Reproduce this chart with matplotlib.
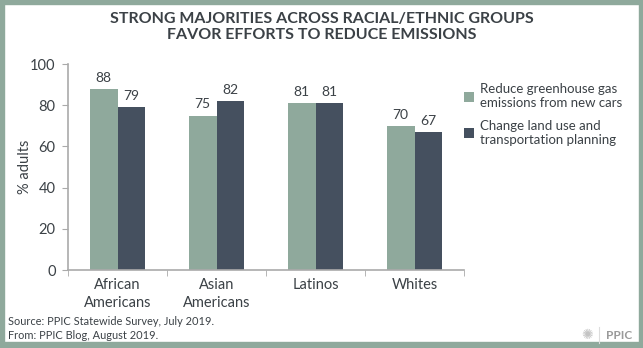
import matplotlib
matplotlib.use("Agg")
import matplotlib.pyplot as plt
import numpy as np
from matplotlib.patches import Rectangle

# data
groups = ["African\nAmericans", "Asian\nAmericans", "Latinos", "Whites"]
reduce_cars = [88, 75, 81, 70]
land_use = [79, 82, 81, 67]
series_labels = ["Reduce greenhouse gas\nemissions from new cars",
                 "Change land use and\ntransportation planning"]

green = "#8fa99c"
navy = "#45505f"
text_col = "#3b4146"
axis_col = "#aaaaaa"

plt.rcParams["font.family"] = ["Lato", "DejaVu Sans"]

fig = plt.figure(figsize=(6.43, 3.48), dpi=100)
ax = fig.add_axes([0.1058, 0.224, 0.616, 0.592])

x = np.arange(len(groups))
w = 0.28
b1 = ax.bar(x - w / 2, reduce_cars, w, color=green, label=series_labels[0])
b2 = ax.bar(x + w / 2, land_use, w, color=navy, label=series_labels[1])

for bars in (b1, b2):
    for r in bars:
        ax.text(r.get_x() + r.get_width() / 2, r.get_height() + 2.5,
                "%d" % r.get_height(), ha="center", va="bottom",
                fontsize=10, color=text_col)

ax.set_xlim(-0.5, 3.5)
ax.set_ylim(0, 100)
ax.set_yticks([0, 20, 40, 60, 80, 100])
ax.set_xticks(x)
ax.set_xticklabels(groups, fontsize=10.5, color=text_col, linespacing=1.3)
ax.set_xticks(np.arange(-0.5, 4, 1), minor=True)
ax.tick_params(axis="x", which="major", length=0, pad=6)
ax.tick_params(axis="x", which="minor", length=4, color=axis_col)
ax.tick_params(axis="y", length=4, color=axis_col, labelsize=10.5,
               labelcolor=text_col, pad=5)
for s in ["top", "right"]:
    ax.spines[s].set_visible(False)
for s in ["left", "bottom"]:
    ax.spines[s].set_color(axis_col)
    ax.spines[s].set_linewidth(1.2)
ax.set_ylabel("% adults", fontsize=10.5, color=text_col)
ax.yaxis.set_label_coords(-0.092, 0.5)

fig.legend(handles=[b1, b2], loc="upper left", bbox_to_anchor=(0.703, 0.795),
           frameon=False, fontsize=9.5, handlelength=0.8, handleheight=0.8,
           handletextpad=0.4, labelspacing=0.8, labelcolor=text_col)

fig.text(0.5, 0.965, "STRONG MAJORITIES ACROSS RACIAL/ETHNIC GROUPS\nFAVOR EFFORTS TO REDUCE EMISSIONS",
         ha="center", va="top", fontsize=11.5, fontweight="bold",
         color=text_col, linespacing=1.2)

fig.text(0.013, 0.075, "Source: PPIC Statewide Survey, July 2019.",
         fontsize=7.9, color=text_col, va="center")
fig.text(0.013, 0.037, "From: PPIC Blog, August 2019.",
         fontsize=7.9, color=text_col, va="center")
fig.text(0.984, 0.037, "PPIC", ha="right", va="center", fontsize=8.5,
         fontweight="bold", color="#9a9a9a")
fig.text(0.922, 0.037, "\u273a", ha="right", va="center", fontsize=10,
         color="#c4c4c4", family="DejaVu Sans")
fig.add_artist(plt.Line2D([0.932, 0.932], [0.015, 0.06], color="#dddddd",
                          lw=0.8, transform=fig.transFigure))

# frame round the figure, a little thicker at the bottom
W, H = 643.0, 348.0
fig.patches.extend([
    Rectangle((0, 0), 4 / W, 1, transform=fig.transFigure, color=green),
    Rectangle((1 - 4 / W, 0), 4 / W, 1, transform=fig.transFigure, color=green),
    Rectangle((0, 1 - 4 / H), 1, 4 / H, transform=fig.transFigure, color=green),
    Rectangle((0, 0), 1, 6 / H, transform=fig.transFigure, color=green),
])

fig.savefig("out.png", dpi=100)
